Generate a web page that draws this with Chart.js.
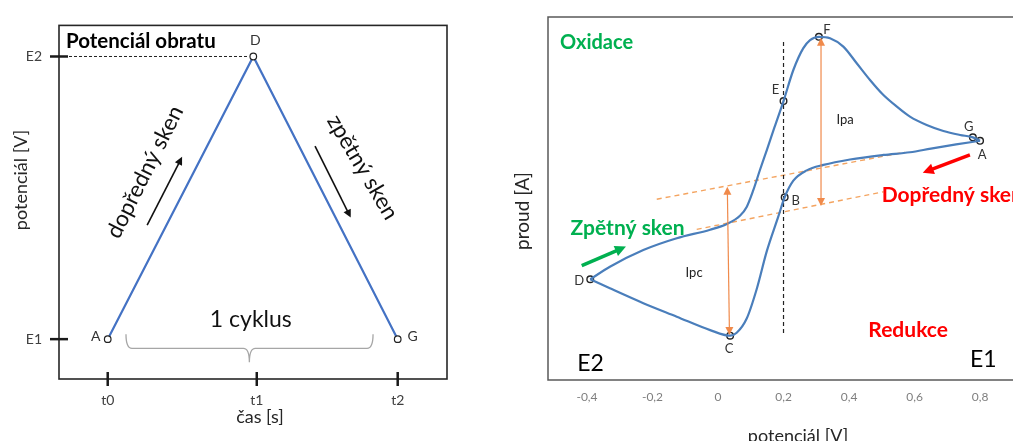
<!DOCTYPE html>
<html>
<head>
<meta charset="utf-8">
<script src="https://cdn.jsdelivr.net/npm/chart.js@4.4.0/dist/chart.umd.min.js"></script>
<style>
  html, body { margin: 0; padding: 0; background: #fff; overflow: hidden; width: 1013px; height: 441px; }
  #left { position: absolute; left: 0; top: 0; width: 500px; height: 441px; }
  #right { position: absolute; left: 500px; top: 0; width: 560px; height: 441px; }
</style>
</head>
<body>
<div id="left"><canvas id="sweep-chart"></canvas></div>
<div id="right"><canvas id="cv-chart"></canvas></div>
<script>
/* data - left: potential sweep */
const timeTicks = [0, 1.028, 2];
const timeLabels = ['t0', 't1', 't2'];
const potTicks = [0, 1];
const potLabels = ['E1', 'E2'];
const sweepTime = [0, 1.004, 2];
const sweepPot = [0, 1, 0];
const sweepNames = ['A', 'D', 'G'];

/* data - right: cyclic voltammogram */
const cvTicks = [-0.4, -0.2, 0, 0.2, 0.4, 0.6, 0.8];
const cvTickLabels = ['-0,4', '-0,2', '0', '0,2', '0,4', '0,6', '0,8'];
const upperPot = [-0.39, -0.33, -0.228, -0.126, -0.024, 0.027, 0.067, 0.088, 0.108, 0.128, 0.149, 0.172, 0.2, 0.23, 0.26, 0.281, 0.308, 0.342, 0.3826, 0.4235, 0.464, 0.505, 0.546, 0.586, 0.637, 0.688, 0.739, 0.778, 0.8];
const upperCur = [-4.45, -3.76, -2.84, -2.19, -1.72, -1.40, -0.95, -0.45, 0.47, 1.57, 2.67, 3.9, 5.37, 7.08, 8.27, 8.73, 8.91, 8.83, 8.37, 7.45, 6.53, 5.70, 5.06, 4.51, 4.05, 3.72, 3.50, 3.37, 3.18];
const lowerPot = [-0.39, -0.33, -0.228, -0.126, -0.024, 0.037, 0.057, 0.088, 0.118, 0.149, 0.184, 0.2035, 0.23, 0.271, 0.322, 0.403, 0.505, 0.586, 0.65, 0.727, 0.8];
const lowerCur = [-4.45, -4.95, -5.77, -6.51, -7.25, -7.56, -7.4, -6.6, -5.0, -2.9, -1.0, 0.07, 0.98, 1.55, 1.85, 2.15, 2.40, 2.55, 2.75, 2.98, 3.18];
const markNames = ['A', 'B', 'C', 'D', 'E', 'F', 'G'];
const markPot = [0.8, 0.2035, 0.037, -0.39, 0.2, 0.308, 0.778];
const markCur = [3.18, 0.07, -7.56, -4.45, 5.37, 8.91, 3.37];


Chart.defaults.font.family = 'Lato, "Open Sans", sans-serif';
Chart.defaults.animation = false;

const toXY = (xs, ys) => xs.map((x, i) => ({ x: x, y: ys[i] }));

function pt(chart, x, y) {
    return [chart.scales.x.getPixelForValue(x), chart.scales.y.getPixelForValue(y)];
}

function text(ctx, str, x, y, font, color, align, angle) {
    ctx.save();
    ctx.translate(x, y);
    if (angle) ctx.rotate(angle * Math.PI / 180);
    ctx.font = font;
    ctx.fillStyle = color;
    ctx.textAlign = align || 'center';
    ctx.textBaseline = 'middle';
    ctx.fillText(str, 0, 0);
    ctx.restore();
}

function head(ctx, x, y, a, size) {
    ctx.beginPath();
    ctx.moveTo(x, y);
    ctx.lineTo(x - size * Math.cos(a) + size * 0.5 * Math.sin(a), y - size * Math.sin(a) - size * 0.5 * Math.cos(a));
    ctx.lineTo(x - size * Math.cos(a) - size * 0.5 * Math.sin(a), y - size * Math.sin(a) + size * 0.5 * Math.cos(a));
    ctx.closePath();
    ctx.fill();
}

function arrow(ctx, p1, p2, color, width, size, both) {
    const a = Math.atan2(p2[1] - p1[1], p2[0] - p1[0]);
    ctx.save();
    ctx.strokeStyle = color;
    ctx.fillStyle = color;
    ctx.lineWidth = width;
    ctx.beginPath();
    const s = both ? size * 0.8 : 0;
    ctx.moveTo(p1[0] + Math.cos(a) * s, p1[1] + Math.sin(a) * s);
    ctx.lineTo(p2[0] - Math.cos(a) * size * 0.8, p2[1] - Math.sin(a) * size * 0.8);
    ctx.stroke();
    head(ctx, p2[0], p2[1], a, size);
    if (both) head(ctx, p1[0], p1[1], a + Math.PI, size);
    ctx.restore();
}

function line(ctx, p1, p2, color, width, dash) {
    ctx.save();
    ctx.strokeStyle = color;
    ctx.lineWidth = width;
    ctx.setLineDash(dash || []);
    ctx.beginPath();
    ctx.moveTo(p1[0], p1[1]);
    ctx.lineTo(p2[0], p2[1]);
    ctx.stroke();
    ctx.restore();
}


/*  left chart - triangle sweep  */

const sweepLabelOffsets = [[-12, -3], [2, -16], [15, -3]];

const sweepDecor = {
    id: 'sweepDecor',
    beforeDatasetsDraw(chart) {
        const ctx = chart.ctx;
        const a = chart.chartArea;
        // dashed line to turning potential
        line(ctx, [a.left, chart.scales.y.getPixelForValue(1)], pt(chart, 0.975, 1), '#222', 1, [3, 2]);
    },
    afterDraw(chart) {
        const ctx = chart.ctx;
        const a = chart.chartArea;
        const sx = chart.scales.x, sy = chart.scales.y;

        // frame
        ctx.save();
        ctx.strokeStyle = '#262626';
        ctx.lineWidth = 1.6;
        ctx.strokeRect(a.left, a.top, a.right - a.left, a.bottom - a.top);
        ctx.restore();

        // tick marks crossing the axes
        potTicks.forEach(v => {
            const y = sy.getPixelForValue(v);
            line(ctx, [a.left - 9, y], [a.left + 9, y], '#1a1a1a', 2.5);
        });
        timeTicks.forEach(v => {
            const x = sx.getPixelForValue(v);
            line(ctx, [x, a.bottom - 7], [x, a.bottom + 7], '#1a1a1a', 2.5);
        });

        // axis titles
        text(ctx, 'čas [s]', 260, 417, '18px Lato', '#262626');
        text(ctx, 'potenciál [V]', 21, 180, '18px Lato', '#262626', 'center', -90);

        // title and scan labels
        let p = pt(chart, -0.288, 1.055);
        text(ctx, 'Potenciál obratu', p[0], p[1], 'bold 20.5px Lato', '#000', 'left');
        p = pt(chart, 0.257, 0.591);
        text(ctx, 'dopředný sken', p[0], p[1], '22.5px Lato', '#111', 'center', -63.4);
        p = pt(chart, 1.757, 0.608);
        text(ctx, 'zpětný sken', p[0], p[1], '22.5px Lato', '#111', 'center', 59.4);
        arrow(ctx, pt(chart, 0.272, 0.403), pt(chart, 0.513, 0.645), '#111', 1.6, 8);
        arrow(ctx, pt(chart, 1.43, 0.683), pt(chart, 1.676, 0.43), '#111', 1.6, 8);
        p = pt(chart, 0.987, 0.068);
        text(ctx, '1 cyklus', p[0], p[1], '23px Lato', '#111');

        // brace
        const x1 = sx.getPixelForValue(0.126), x2 = sx.getPixelForValue(1.83), xm = sx.getPixelForValue(0.977);
        const yt = sy.getPixelForValue(0.017), ym = sy.getPixelForValue(-0.033), yb = sy.getPixelForValue(-0.082);
        ctx.save();
        ctx.strokeStyle = '#a6a6a6';
        ctx.lineWidth = 1.3;
        ctx.beginPath();
        ctx.moveTo(x1, yt);
        ctx.quadraticCurveTo(x1, ym, x1 + 6, ym);
        ctx.lineTo(xm - 6, ym);
        ctx.quadraticCurveTo(xm, ym, xm, yb);
        ctx.quadraticCurveTo(xm, ym, xm + 6, ym);
        ctx.lineTo(x2 - 6, ym);
        ctx.quadraticCurveTo(x2, ym, x2, yt);
        ctx.stroke();
        ctx.restore();

        // point names
        sweepNames.forEach((n, i) => {
            const q = pt(chart, sweepTime[i], sweepPot[i]);
            text(ctx, n, q[0] + sweepLabelOffsets[i][0], q[1] + sweepLabelOffsets[i][1], '14px Lato', '#333');
        });
    }
};

new Chart(document.getElementById('sweep-chart'), {
    type: 'scatter',
    data: {
        datasets: [{
            data: toXY(sweepTime, sweepPot),
            showLine: true,
            borderColor: '#4472C4',
            borderWidth: 2.2,
            pointRadius: 3.3,
            pointBorderWidth: 1.2,
            pointBorderColor: '#222',
            pointBackgroundColor: '#fff'
        }]
    },
    options: {
        responsive: true,
        maintainAspectRatio: false,
        layout: { padding: { top: 16, right: 53, left: 0, bottom: 0 } },
        plugins: { legend: { display: false }, tooltip: { enabled: false } },
        scales: {
            x: {
                type: 'linear',
                min: -0.336,
                max: 2.34,
                grid: { display: false, drawTicks: false },
                border: { display: false },
                afterBuildTicks: s => { s.ticks = timeTicks.map(v => ({ value: v })); },
                afterFit: s => { s.height = 62; },
                ticks: {
                    padding: 13,
                    maxRotation: 0,
                    color: '#404040',
                    font: { size: 14 },
                    callback: (v, i) => timeLabels[i]
                }
            },
            y: {
                type: 'linear',
                min: -0.141,
                max: 1.11,
                grid: { display: false, drawTicks: false },
                border: { display: false },
                afterBuildTicks: s => { s.ticks = potTicks.map(v => ({ value: v })); },
                afterFit: s => { s.width = 59; },
                ticks: {
                    padding: 17,
                    color: '#404040',
                    font: { size: 14 },
                    callback: (v, i) => potLabels[i]
                }
            }
        }
    },
    plugins: [sweepDecor]
});


/*  right chart - voltammogram  */

const markLabelOffsets = [[2, 14], [11, 4], [-1, 13], [-11, 2], [-8, -11], [8, -7], [-4, -11]];

const cvDecor = {
    id: 'cvDecor',
    beforeDatasetsDraw(chart) {
        const ctx = chart.ctx;
        // baselines
        line(ctx, pt(chart, -0.187, -0.04), pt(chart, 0.57, 2.55), '#F4A460', 1.4, [5, 4]);
        line(ctx, pt(chart, -0.065, -1.70), pt(chart, 0.505, 0.37), '#F4A460', 1.4, [5, 4]);
        // formal potential
        line(ctx, pt(chart, 0.2, 8.62), pt(chart, 0.2, -7.52), '#222', 1.2, [4, 3]);
    },
    afterDatasetsDraw(chart) {
        const ctx = chart.ctx;
        arrow(ctx, pt(chart, 0.3145, 8.85), pt(chart, 0.3145, -0.41), '#F08A4B', 1.2, 8, true);
        arrow(ctx, pt(chart, 0.0284, 0.65), pt(chart, 0.035, -7.52), '#F08A4B', 1.2, 8, true);
    },
    afterDraw(chart) {
        const ctx = chart.ctx;
        const a = chart.chartArea;

        // frame (right side runs off the picture)
        ctx.save();
        ctx.strokeStyle = '#595959';
        ctx.lineWidth = 1.5;
        ctx.beginPath();
        ctx.moveTo(chart.width, a.top);
        ctx.lineTo(a.left, a.top);
        ctx.lineTo(a.left, a.bottom);
        ctx.lineTo(chart.width, a.bottom);
        ctx.stroke();
        ctx.restore();

        text(ctx, 'potenciál [V]', 298, 436, '18px Lato', '#262626');
        text(ctx, 'proud [A]', 23, 211, '19px Lato', '#262626', 'center', -90);

        const green = '#00B050', red = '#FF0000';
        let p = pt(chart, -0.482, 8.62);
        text(ctx, 'Oxidace', p[0], p[1], 'bold 20px Lato', green, 'left');
        p = pt(chart, -0.45, -1.63);
        text(ctx, 'Zpětný sken', p[0], p[1], 'bold 21px Lato', green, 'left');
        p = pt(chart, 0.4998, 0.19);
        text(ctx, 'Dopředný sken', p[0], p[1], 'bold 21px Lato', red, 'left');
        p = pt(chart, 0.459, -7.25);
        text(ctx, 'Redukce', p[0], p[1], 'bold 21px Lato', red, 'left');
        p = pt(chart, -0.43, -9.08);
        text(ctx, 'E2', p[0], p[1], '23px Lato', '#000', 'left');
        p = pt(chart, 0.769, -8.9);
        text(ctx, 'E1', p[0], p[1], '23px Lato', '#000', 'left');
        p = pt(chart, 0.388, 4.33);
        text(ctx, 'Ipa', p[0], p[1], '13px Lato', '#222');
        p = pt(chart, -0.073, -4.12);
        text(ctx, 'Ipc', p[0], p[1], '13px Lato', '#222');

        arrow(ctx, pt(chart, -0.416, -3.70), pt(chart, -0.281, -2.65), green, 3.5, 11);
        arrow(ctx, pt(chart, 0.769, 2.40), pt(chart, 0.625, 1.42), red, 3.5, 11);

        markNames.forEach((n, i) => {
            const q = pt(chart, markPot[i], markCur[i]);
            text(ctx, n, q[0] + markLabelOffsets[i][0], q[1] + markLabelOffsets[i][1], '13px Lato', '#333');
        });
    }
};

new Chart(document.getElementById('cv-chart'), {
    type: 'scatter',
    data: {
        datasets: [{
            label: 'zpětný',
            data: toXY(upperPot, upperCur),
            showLine: true,
            cubicInterpolationMode: 'monotone',
            borderColor: '#4A7EBB',
            borderWidth: 2.2,
            pointRadius: 0
        }, {
            label: 'dopředný',
            data: toXY(lowerPot, lowerCur),
            showLine: true,
            cubicInterpolationMode: 'monotone',
            borderColor: '#4A7EBB',
            borderWidth: 2.2,
            pointRadius: 0
        }, {
            label: 'body',
            data: toXY(markPot, markCur),
            showLine: false,
            pointRadius: 3.3,
            pointBorderWidth: 1.4,
            pointBorderColor: '#222',
            pointBackgroundColor: 'rgba(0,0,0,0)'
        }]
    },
    options: {
        responsive: true,
        maintainAspectRatio: false,
        layout: { padding: { top: 17, right: 20, left: 48, bottom: 0 } },
        plugins: { legend: { display: false }, tooltip: { enabled: false } },
        scales: {
            x: {
                type: 'linear',
                min: -0.519,
                max: 0.983,
                grid: { display: false, drawTicks: false },
                border: { display: false },
                afterBuildTicks: s => { s.ticks = cvTicks.map(v => ({ value: v })); },
                afterFit: s => { s.height = 61; },
                ticks: {
                    padding: 10,
                    maxRotation: 0,
                    color: '#7f7f7f',
                    font: { size: 12 },
                    callback: (v, i) => cvTickLabels[i]
                }
            },
            y: {
                type: 'linear',
                display: false,
                min: -10,
                max: 10
            }
        }
    },
    plugins: [cvDecor]
});
</script>
</body>
</html>
